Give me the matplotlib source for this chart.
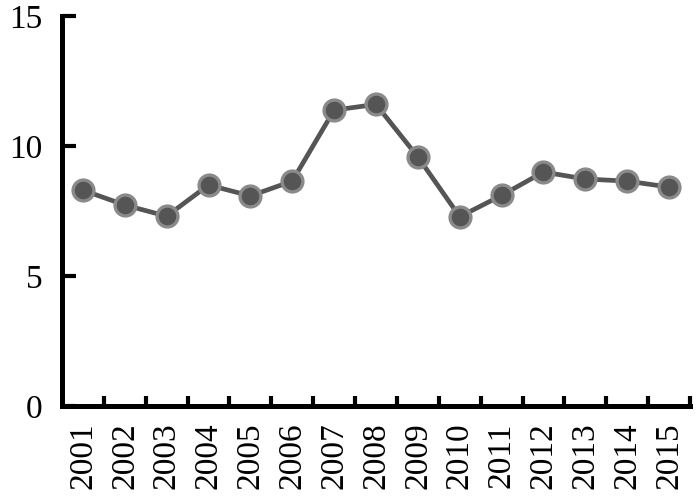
import numpy as np
import matplotlib; matplotlib.use("Agg")
import matplotlib.pyplot as plt

years  = ["2001", "2002", "2003", "2004", "2005", "2006", "2007", "2008",
          "2009", "2010", "2011", "2012", "2013", "2014", "2015"]
values = [8.3, 7.73, 7.3, 8.5, 8.08, 8.65, 11.38, 11.6,
          9.58, 7.28, 8.1, 9.0, 8.73, 8.65, 8.42]
yticks = [0, 5, 10, 15]

plt.rcParams["font.family"] = ["Liberation Serif", "DejaVu Serif"]

fig = plt.figure(figsize=(7, 5.04), dpi=100)
ax = fig.add_axes([62/700, 98/504, 628/700, 390/504])

x = np.arange(len(years))
ax.plot(x, values, color="#555555", lw=3.4, marker="o", ms=15,
        mfc="#555555", mec="#8a8a8a", mew=2.4, zorder=3)

ax.set_xlim(-0.5, len(years) - 0.5)
ax.set_ylim(0, 15)
ax.set_yticks(yticks)
ax.set_xticks(x)
ax.set_xticklabels(years, rotation=90)
ax.set_xticks(np.arange(len(years)) + 0.5, minor=True)

for s in ("top", "right"):
    ax.spines[s].set_visible(False)
for s in ("left", "bottom"):
    ax.spines[s].set_linewidth(3.6)
    ax.spines[s].set_capstyle("projecting")

ax.tick_params(axis="y", direction="in", length=10, width=3, labelsize=24, pad=14)
ax.tick_params(axis="x", which="major", length=0, labelsize=24, pad=12)
ax.tick_params(axis="x", which="minor", direction="in", length=7, width=3)

fig.savefig("out.png", dpi=100)
